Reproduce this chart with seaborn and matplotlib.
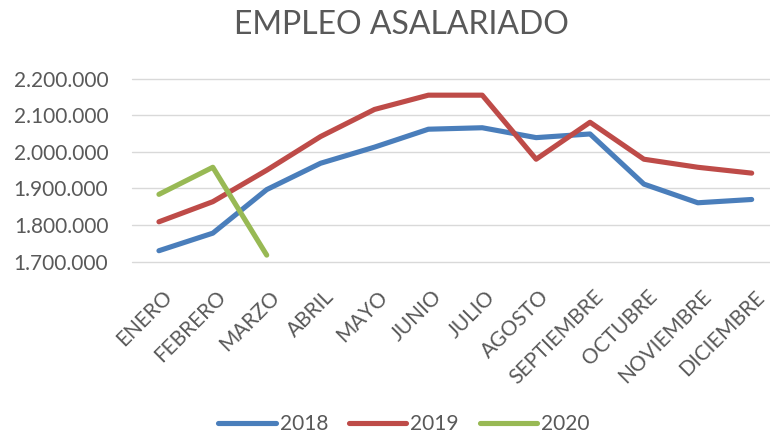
import numpy as np
import pandas as pd
import seaborn as sns
from matplotlib import pyplot as plt
from matplotlib import transforms
from matplotlib.ticker import FuncFormatter

meses = ["ENERO", "FEBRERO", "MARZO", "ABRIL", "MAYO", "JUNIO", "JULIO",
         "AGOSTO", "SEPTIEMBRE", "OCTUBRE", "NOVIEMBRE", "DICIEMBRE"]
empleo_2018 = [1730000, 1778000, 1897000, 1969000, 2013000, 2062000, 2066000,
               2039000, 2049000, 1912000, 1861000, 1870000]
empleo_2019 = [1809000, 1864000, 1950000, 2042000, 2116000, 2155000, 2155000,
               1980000, 2081000, 1980000, 1958000, 1942000]
empleo_2020 = [1884000, 1958000, 1718000]

colores = {"2018": "#4A7EBB", "2019": "#BE4B48", "2020": "#98B954"}
gris = "#595959"

rows = []
for anio, vals in (("2018", empleo_2018), ("2019", empleo_2019), ("2020", empleo_2020)):
    for i, v in enumerate(vals):
        rows.append((i, meses[i], v, anio))
df = pd.DataFrame(rows, columns=["pos", "mes", "empleo", "anio"])

sns.set_style("white")
plt.rcParams["font.family"] = ["Lato", "DejaVu Sans"]

fig = plt.figure(figsize=(7.7, 4.34), dpi=100)
ax = fig.add_axes([132 / 770, 1 - 261.7 / 434, 1 - 132 / 770, (261.7 - 78.7) / 434])

sns.lineplot(data=df, x="pos", y="empleo", hue="anio", palette=colores,
             linewidth=3.7, ax=ax, legend=True)
for ln in ax.lines:
    ln.set_solid_capstyle("round")
    ln.set_solid_joinstyle("round")

ax.set_xlim(-0.5, 11.34)
ax.set_ylim(1700000, 2200000)
ax.set_yticks(np.arange(1700000, 2200001, 100000))
ax.yaxis.set_major_formatter(FuncFormatter(lambda v, p: f"{int(v):,}".replace(",", ".")))
ax.grid(axis="y", color="#D9D9D9", linewidth=1.0)
ax.set_axisbelow(True)
for gl in ax.yaxis.get_gridlines():
    gl.set_clip_on(False)
for s in ax.spines.values():
    s.set_visible(False)

ax.set_xticks(range(len(meses)))
ax.set_xticklabels(meses)
ax.tick_params(axis="y", length=0, pad=17, labelsize=15, labelcolor=gris)
ax.tick_params(axis="x", length=0, pad=18, labelsize=15, labelcolor=gris)
offset = transforms.ScaledTranslation(3 / 100, 0, fig.dpi_scale_trans)
for lbl in ax.get_xticklabels():
    lbl.set_rotation(45)
    lbl.set_ha("right")
    lbl.set_va("top")
    lbl.set_rotation_mode("anchor")
    lbl.set_transform(lbl.get_transform() + offset)
ax.set_xlabel("")
ax.set_ylabel("")

handles, labels = ax.get_legend_handles_labels()
ax.legend(handles, labels, loc="center", bbox_to_anchor=(404 / 770, 1 - 424 / 434),
          bbox_transform=fig.transFigure, ncol=3, frameon=False, fontsize=15,
          labelcolor=gris, handlelength=2.75, handletextpad=0.2, columnspacing=1.0)

fig.text(401 / 770, 1 - 25 / 434, "EMPLEO ASALARIADO", ha="center", va="center",
         fontsize=23, color=gris)

fig.savefig("out.png", dpi=100)
